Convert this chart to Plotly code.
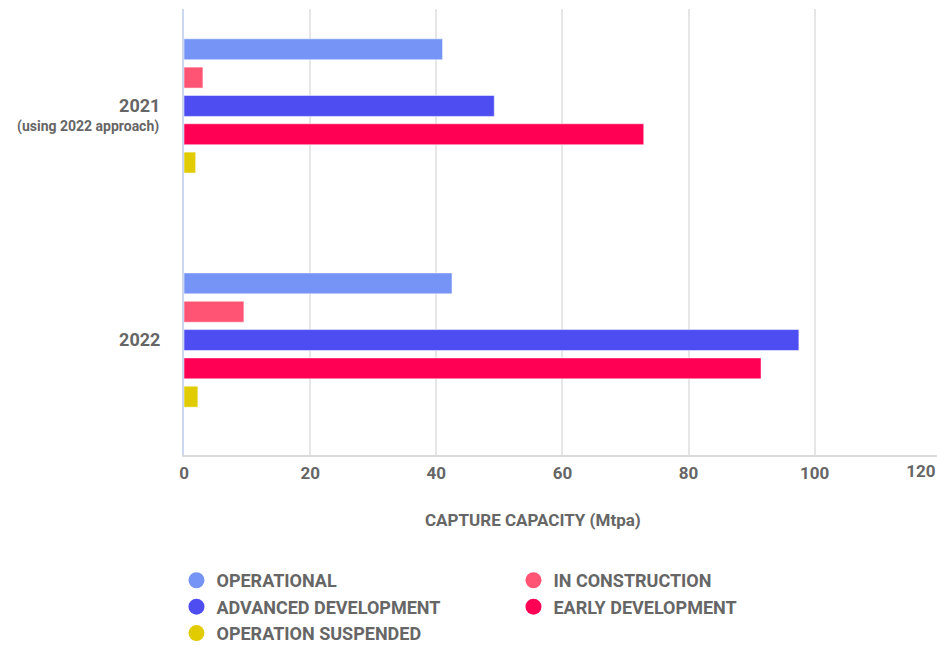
import plotly.graph_objects as go

categories = ["2021", "2022"]
series_names = ["OPERATIONAL", "IN CONSTRUCTION", "ADVANCED DEVELOPMENT", "EARLY DEVELOPMENT", "OPERATION SUSPENDED"]
operational = [41.0, 42.5]
in_construction = [3.0, 9.5]
advanced_development = [49.2, 97.5]
early_development = [72.9, 91.5]
operation_suspended = [1.85, 2.2]
colors = ["#7694F5", "#FF5473", "#4D4DF2", "#FF0055", "#E0CC00"]
x_tick_vals = [0, 20, 40, 60, 80, 100]
x_tick_text = ["0", "20", "40", "60", "80", "100"]
last_tick_text = ["120"]

series_values = [operational, in_construction, advanced_development, early_development, operation_suspended]

FONT = "Roboto"
GRAY = "#666666"

fig = go.Figure()
for name, vals, col in zip(series_names, series_values, colors):
    fig.add_trace(go.Bar(
        y=[0, 1], x=vals, orientation="h", name=name,
        marker=dict(color=col, line=dict(color="rgba(255,255,255,0.5)", width=1)),
        showlegend=False, hoverinfo="x+name",
    ))

for i in range(len(series_names)):
    fig.add_trace(go.Scatter(
        x=[None], y=[None], mode="markers", name=series_names[i],
        marker=dict(color=colors[i], size=20, symbol="circle"),
        showlegend=True,
    ))

fig.update_layout(
    width=937, height=645,
    margin=dict(l=184, r=0, t=9, b=190, autoexpand=False),
    paper_bgcolor="white", plot_bgcolor="white",
    barmode="group", bargap=0.395, bargroupgap=0.26,
    font=dict(family=FONT, color=GRAY),
    xaxis=dict(
        range=[0, 119.4], tickvals=x_tick_vals, ticktext=x_tick_text,
        showgrid=True, gridcolor="#E6E6E6", gridwidth=2,
        showline=True, linecolor="#DADADA", linewidth=2,
        zeroline=False, ticks="", ticklabelstandoff=2, automargin=False,
        tickfont=dict(family=FONT, size=17, color=GRAY, weight="bold"),
    ),
    xaxis2=dict(
        overlaying="x", side="bottom", anchor="y",
        range=[0, 119.4], tickvals=[116.85], ticktext=last_tick_text,
        showgrid=False, showline=False, zeroline=False, ticks="", ticklabelstandoff=4,
        automargin=False,
        tickfont=dict(family=FONT, size=17, color=GRAY, weight="bold"),
    ),
    yaxis=dict(
        range=[1.491, -0.414], tickvals=[0, 1], ticktext=categories,
        showgrid=False, zeroline=False,
        showline=True, linecolor="#CCD8F0", linewidth=2,
        ticks="", ticklabelstandoff=18, automargin=False,
        tickfont=dict(family=FONT, size=18, color=GRAY, weight="bold"),
    ),
    legend=dict(
        orientation="h", x=-0.01, xanchor="left", y=-0.240, yanchor="top",
        entrywidth=292, entrywidthmode="pixels",
        font=dict(family=FONT, size=18, color=GRAY, weight="bold"),
        itemsizing="trace", tracegroupgap=0,
    ),
)

fig.add_trace(go.Scatter(x=[None], y=[None], xaxis="x2", showlegend=False, hoverinfo="skip"))

fig.add_annotation(
    text="(using 2022 approach)", xref="paper", yref="y",
    x=-0.0305, y=0, yshift=-21, xanchor="right", yanchor="middle", showarrow=False,
    font=dict(family=FONT, size=14, color=GRAY, weight="bold"),
)
fig.add_annotation(
    text="CAPTURE CAPACITY (Mtpa)", xref="paper", yref="paper",
    x=(533 - 184) / 753, y=-0.146, xanchor="center", yanchor="middle", showarrow=False,
    font=dict(family=FONT, size=17, color=GRAY, weight="bold"),
)

fig.write_html("out.html", config={"displayModeBar": False},
               post_script="document.body.style.margin='0';")
